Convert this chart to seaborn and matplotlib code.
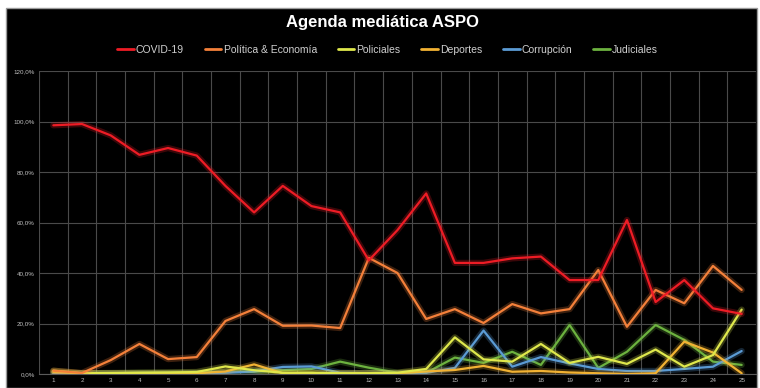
import numpy as np
import pandas as pd
import matplotlib
matplotlib.use("Agg")
import matplotlib.pyplot as plt
import matplotlib.patheffects as pe
from matplotlib.patches import Rectangle
from matplotlib.lines import Line2D
import seaborn as sns

days = list(range(1, 26))
covid = [98.5, 99.0, 94.5, 86.8, 89.5, 86.5, 74.5, 64.0, 74.5, 66.5, 64.0, 45.0, 57.0,
         71.5, 44.0, 44.0, 45.8, 46.5, 37.2, 37.2, 61.0, 28.5, 37.2, 26.0, 23.8]
politica = [1.3, 0.4, 5.5, 11.9, 5.9, 6.7, 21.0, 25.7, 19.1, 19.2, 18.2, 46.0, 40.0,
            21.8, 25.7, 20.2, 27.7, 24.0, 25.7, 41.2, 18.7, 33.3, 28.0, 42.8, 33.3]
policiales = [1.3, 0.3, 0.4, 0.5, 0.6, 0.8, 3.0, 1.5, 0.5, 0.5, 0.3, 0.3, 0.5,
              2.0, 14.5, 5.8, 4.9, 11.9, 4.4, 6.8, 4.0, 9.7, 2.9, 7.5, 25.5]
deportes = [0.8, 0.3, 0.3, 0.3, 0.3, 0.3, 1.0, 3.8, 0.3, 0.3, 0.3, 0.3, 0.3,
            1.0, 1.6, 3.2, 0.9, 1.2, 0.6, 0.3, 0.0, 0.3, 12.8, 8.5, 0.3]
corrupcion = [0.2, 0.2, 0.2, 0.2, 0.2, 0.3, 0.5, 1.0, 2.8, 3.0, 0.5, 0.3, 0.3,
              0.5, 2.4, 17.2, 2.9, 6.7, 4.2, 2.0, 1.2, 1.2, 2.0, 2.9, 9.1]
judiciales = [0.3, 0.3, 0.3, 0.5, 0.5, 0.5, 0.8, 1.0, 1.5, 2.0, 4.9, 2.5, 0.5,
              0.5, 6.5, 4.4, 8.8, 3.6, 19.4, 2.4, 8.8, 19.4, 13.5, 4.9, 3.6]

series_names = ["COVID-19", "Política & Economía", "Policiales", "Deportes", "Corrupción", "Judiciales"]
series_vals = [covid, politica, policiales, deportes, corrupcion, judiciales]
colors = ["#ee1c25", "#f4803a", "#dfe84c", "#f2b233", "#5b9bd5", "#6cb23f"]
y_ticks = [0, 20, 40, 60, 80, 100, 120]
y_labels = ["0,0%", "20,0%", "40,0%", "60,0%", "80,0%", "100,0%", "120,0%"]

df = pd.concat([pd.DataFrame({"dia": days, "valor": v, "serie": n})
                for n, v in zip(series_names, series_vals)], ignore_index=True)

sns.set_style("dark")
plt.rcParams['font.family'] = ['Liberation Sans Narrow', 'Liberation Sans', 'DejaVu Sans']

fig = plt.figure(figsize=(7.6, 3.88), dpi=100)
fig.patch.set_facecolor("white")
frame = Rectangle((6/760, 0), 751/760, 1 - 8/388, transform=fig.transFigure,
                  facecolor="black", edgecolor="#9a9a9a", linewidth=1.0, zorder=-10)
fig.add_artist(frame)

ax = fig.add_axes([39/760, 1 - 374/388, 717/760, 303/388])
ax.set_facecolor("black")
ax.set_zorder(1)

order = ["Judiciales", "Corrupción", "Deportes", "Policiales", "Política & Economía", "COVID-19"]
pal = dict(zip(series_names, colors))
for name in order:
    sub = df[df["serie"] == name]
    sns.lineplot(data=sub, x="dia", y="valor", color=pal[name], linewidth=1.6, ax=ax,
                 legend=False, zorder=3)
for line in ax.lines:
    c = line.get_color()
    line.set_path_effects([pe.Stroke(linewidth=4.5, foreground=c, alpha=0.25), pe.Normal()])

ax.set_xlim(0.5, 25.5)
ax.set_ylim(0, 120)
ax.set_xticks(days)
ax.set_xticklabels([str(d) for d in days], fontsize=4.5, color="#bfbfbf")
ax.set_xticks(np.arange(0.5, 25.6, 1), minor=True)
ax.set_yticks(y_ticks)
ax.set_yticklabels(y_labels, fontsize=4.5, color="#bfbfbf")
ax.tick_params(axis="both", which="both", length=0, pad=3)
ax.grid(False)
ax.grid(True, which="major", axis="y", color="#4a4a4a", linewidth=0.8)
ax.grid(True, which="minor", axis="x", color="#4a4a4a", linewidth=0.8)
ax.set_axisbelow(True)
ax.set_xlabel("")
ax.set_ylabel("")
for s in ax.spines.values():
    s.set_visible(False)
ax.spines["bottom"].set_visible(True)
ax.spines["bottom"].set_color("#5a5a5a")

fig.text(0.503, 1 - 22/388, "Agenda mediática ASPO", ha="center", va="center",
         color="white", fontsize=12, fontweight="bold")

handles = [Line2D([0], [0], color=c, linewidth=2) for c in colors]
fig.legend(handles, series_names, loc="center", bbox_to_anchor=(0.51, 1 - 50/388),
           ncol=6, frameon=False, fontsize=7.5, labelcolor="#d0d0d0",
           handlelength=1.6, handletextpad=0.2, columnspacing=2.0)

fig.savefig("out.png", dpi=100, facecolor=fig.get_facecolor())
